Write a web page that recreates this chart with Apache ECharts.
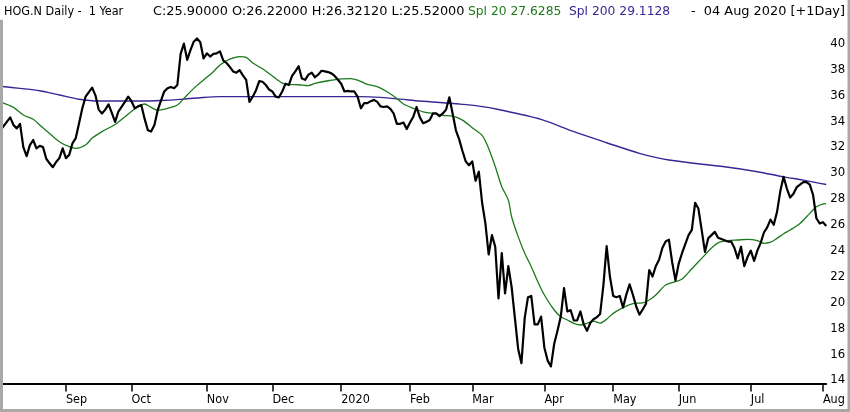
<!DOCTYPE html>
<html>
<head>
<meta charset="utf-8">
<script src="https://cdn.jsdelivr.net/npm/echarts@6/dist/echarts.min.js"></script>
<style>
html,body{margin:0;padding:0;background:#fff;}
#chart{width:850px;height:412px;}
</style>
</head>
<body>
<div id="chart"></div>
<script>
// ---- Data (x = trading-day index from 05 Aug 2019 to 04 Aug 2020) ----
const monthTickDays = [20, 40, 63, 83, 104, 125, 144, 166, 187, 207, 229, 251];
const monthLabels = ['Sep', 'Oct', 'Nov', 'Dec', '2020', 'Feb', 'Mar', 'Apr', 'May', 'Jun', 'Jul', 'Aug'];
const priceTicks = [14, 16, 18, 20, 22, 24, 26, 28, 30, 32, 34, 36, 38, 40];

const priceDays = [0,3,4,5,6,7,8,9,10,11,12,13,14,15,16,17,18,19,20,21,22,23,24,25,26,28,29,30,31,32,33,34,35,36,38,39,40,41,42,43,44,45,46,47,48,50,51,52,53,54,55,56,57,58,59,60,61,62,63,64,65,66,67,68,69,70,71,72,73,74,75,76,77,78,79,80,81,82,83,84,85,86,87,88,89,90,91,92,93,94,95,96,97,98,99,100,101,102,103,104,105,106,107,108,109,110,111,112,113,114,115,116,117,118,119,120,121,122,123,124,125,126,127,128,129,130,131,132,133,134,135,136,137,138,139,140,141,142,143,144,145,146,147,148,149,150,151,152,153,154,155,156,157,158,159,160,161,162,163,164,165,166,167,168,169,170,171,172,173,174,175,176,177,178,179,180,181,182,183,184,185,186,187,188,189,190,191,192,193,194,195,196,197,198,199,200,201,202,203,204,205,206,207,208,209,210,211,212,213,214,215,216,217,218,219,220,221,222,223,224,225,226,227,228,229,230,231,232,233,234,235,236,237,238,239,240,241,242,243,244,245,246,247,248,249,250,251,252];
const priceValues = [33.3,34.3,33.7,33.45,33.8,32.0,31.3,32.15,32.55,31.9,32.1,32.0,31.1,30.75,30.45,30.85,31.15,31.9,31.15,31.4,32.3,32.7,33.85,35.0,35.9,36.6,36.0,34.9,34.6,34.9,35.3,34.65,33.95,34.75,35.5,35.9,35.55,35.0,35.15,35.25,34.2,33.3,33.2,33.7,34.85,36.3,36.55,36.65,36.55,36.8,39.2,40.0,38.75,39.5,40.15,40.4,40.1,38.85,39.25,39.0,39.2,39.25,39.4,38.7,38.5,38.2,37.85,37.75,37.95,37.55,37.2,35.5,35.9,36.4,37.1,37.05,36.8,36.45,36.3,35.9,35.85,36.3,36.9,36.8,37.5,37.85,38.25,37.3,37.2,37.6,37.75,37.4,37.6,37.9,37.85,37.8,37.7,37.5,37.2,36.9,36.3,36.35,36.3,36.3,35.9,35.0,35.4,35.4,35.55,35.65,35.5,35.15,35.1,35.15,34.95,34.6,33.8,33.8,33.9,33.4,33.9,34.35,35.1,34.3,33.85,33.95,34.1,34.6,34.6,34.4,34.6,34.9,35.85,34.6,33.3,32.6,31.7,30.9,30.6,30.9,29.4,30.1,27.7,26.1,23.7,25.2,24.3,20.3,23.8,20.7,22.8,21.2,18.8,16.4,15.3,18.8,20.4,20.5,18.3,18.3,18.9,16.5,15.5,15.05,16.8,17.8,18.9,21.1,19.3,19.4,18.6,18.6,19.3,18.3,17.8,18.4,18.7,18.85,19.1,21.3,24.35,22.0,20.5,20.4,20.5,19.6,20.6,21.4,20.6,19.7,19.05,19.45,19.9,22.5,22.0,22.8,23.3,24.2,24.7,24.85,23.1,21.7,23.0,23.8,24.5,25.2,25.6,27.7,27.25,25.6,23.9,24.95,25.2,25.45,25.0,24.9,24.8,24.7,24.7,24.2,23.4,24.3,22.8,23.5,24.0,23.2,24.0,24.6,25.4,25.8,26.4,26.0,27.0,28.6,29.7,28.8,28.1,28.4,28.9,29.1,29.3,29.3,29.1,28.3,26.5,26.1,26.2,25.9];

const spl20Days = [0,4,7,10,12,15,18,21,23,26,28,31,35,38,41,44,46,48,51,54,56,59,62,65,67,70,73,75,77,80,83,86,88,91,94,96,100,104,107,109,112,115,118,121,123,126,129,132,135,138,141,144,147,149,151,153,155,156,158,160,162,164,166,169,171,173,175,177,179,181,183,185,187,190,193,196,198,200,203,206,208,211,214,217,219,222,225,228,231,233,235,237,239,241,244,247,249,251,252];
const spl20Values = [35.5,35.07,34.48,34.15,33.71,33.06,32.42,32.03,31.9,32.16,32.7,33.2,33.75,34.35,34.95,35.33,35.07,34.85,35.0,35.25,35.77,36.54,37.19,37.83,38.35,38.8,39.0,38.94,38.5,38.05,37.5,36.95,36.85,36.82,36.75,36.92,37.13,37.28,37.3,37.18,36.85,36.67,36.28,35.76,35.33,35.0,34.73,34.61,34.45,34.4,34.09,33.5,32.9,31.9,30.5,28.94,27.9,26.62,25.08,23.79,22.76,21.6,20.57,19.41,18.89,18.64,18.38,18.25,18.38,18.55,18.4,18.7,19.15,19.6,19.9,19.97,20.18,20.57,21.34,21.6,21.8,22.6,23.4,24.2,24.6,24.77,24.82,24.87,24.77,24.56,24.65,24.95,25.3,25.59,26.1,26.88,27.39,27.6,27.63];

const spl200Days = [0,6,12,18,24,30,43,49,55,61,67,110,116,122,128,134,140,146,152,165,175,185,195,204,221,231,239,245,252];
const spl200Values = [36.7,36.54,36.36,36.03,35.7,35.56,35.56,35.6,35.69,35.82,35.9,35.9,35.84,35.71,35.56,35.45,35.33,35.17,34.91,34.14,33.19,32.34,31.52,31.0,30.48,30.1,29.7,29.45,29.11];

const zip = (xs, ys) => xs.map((x, k) => [x, ys[k]]);

const FONT = "'DejaVu Sans Condensed', 'Liberation Sans', sans-serif";
const NUMFONT = "'DejaVu Sans', 'Liberation Sans', sans-serif";
const GREEN = '#1c7a1c';
const PURPLE = '#3a2596';

const chart = echarts.init(document.getElementById('chart'), null, {renderer: 'canvas'});
chart.setOption({
  animation: false,
  backgroundColor: '#ffffff',
  grid: {left: 0.4, right: 23.8, top: 20.7, bottom: 28.5, containLabel: false, outerBoundsMode: 'none'},
  xAxis: {
    type: 'value', min: 0, max: 252,
    axisLine: {show: true, onZero: false, lineStyle: {color: '#000', width: 2}},
    axisTick: {show: true, customValues: monthTickDays, length: 8, lineStyle: {color: '#000', width: 1.5}},
    axisLabel: {
      show: true, customValues: monthTickDays,
      formatter: v => monthLabels[monthTickDays.indexOf(v)] || '',
      align: 'left', margin: 10, color: '#000', fontSize: 12.5, fontFamily: FONT
    },
    splitLine: {show: false}
  },
  yAxis: {
    type: 'value', position: 'right', min: 13.73, max: 41.77,
    axisLine: {show: true, lineStyle: {color: '#000', width: 2}},
    axisTick: {show: false},
    axisLabel: {show: true, customValues: priceTicks, margin: 4, color: '#000', fontSize: 13, fontFamily: FONT},
    splitLine: {show: false}
  },
  series: [
    {name: 'Spl 200', type: 'line', data: zip(spl200Days, spl200Values), showSymbol: false, smooth: 0.3,
     lineStyle: {color: PURPLE, width: 1.4}, z: 2},
    {name: 'Spl 20', type: 'line', data: zip(spl20Days, spl20Values), showSymbol: false, smooth: 0.3,
     lineStyle: {color: GREEN, width: 1.3}, z: 3},
    {name: 'HOG.N', type: 'line', data: zip(priceDays, priceValues), showSymbol: false,
     lineStyle: {color: '#000', width: 2.2, join: 'round'}, z: 4}
  ],
  graphic: [
    {type: 'text', left: 4, top: 5, style: {text: 'HOG.N Daily -  1 Year', fill: '#000', font: '12.5px ' + FONT}},
    {type: 'text', left: 153, top: 5, style: {text: 'C:25.90000 O:26.22000 H:26.32120 L:25.52000', fill: '#000', font: '12.9px ' + NUMFONT}},
    {type: 'text', left: 468, top: 5.5, style: {text: 'Spl 20 27.6285', fill: GREEN, font: '12.3px ' + NUMFONT}},
    {type: 'text', left: 569, top: 5.5, style: {text: 'Spl 200 29.1128', fill: PURPLE, font: '12.3px ' + NUMFONT}},
    {type: 'text', right: 5, top: 5, style: {text: '-  04 Aug 2020 [+1Day]', fill: '#000', font: '12.9px ' + NUMFONT}},
    {type: 'rect', shape: {x: 0, y: 20, width: 3, height: 392}, style: {fill: '#a8a8a8'}, z: 100},
    {type: 'rect', shape: {x: 0, y: 409, width: 850, height: 3}, style: {fill: '#a8a8a8'}, z: 100},
    {type: 'rect', shape: {x: 847.5, y: 0, width: 2.5, height: 412}, style: {fill: '#a8a8a8'}, z: 100}
  ]
});
</script>
</body>
</html>
